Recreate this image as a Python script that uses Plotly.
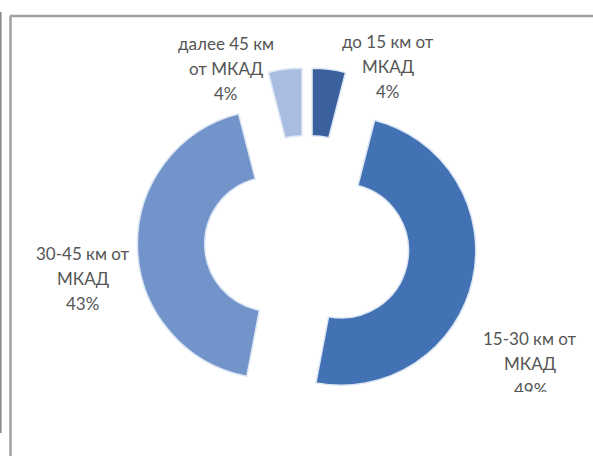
import textwrap
import plotly.graph_objects as go

# Distribution by distance from the MKAD ring road
categories = ["до 15 км от МКАД", "15-30 км от МКАД", "30-45 км от МКАД", "далее 45 км от МКАД"]
shares = [4, 49, 43, 4]
colors = ["#3A619E", "#4271B4", "#7394CB", "#A9BDE0"]
pulls = [0.30, 0.26, 0.26, 0.30]

# Label anchor points (pixel centres of each label block)
label_pos = [(388, 67), (530, 363), (83, 278), (226, 69)]

W, H = 593, 456
CLIP_Y = 393  # lower edge of the chart frame's visible area


def px(x):
    return x / W


def py(y):
    return 1 - y / H


fig = go.Figure(
    go.Pie(
        labels=categories,
        values=shares,
        sort=False,
        direction="clockwise",
        rotation=0,
        hole=0.5,
        pull=pulls,
        marker=dict(colors=colors, line=dict(color="#dce6f4", width=1.5)),
        textinfo="none",
        hoverinfo="label+percent",
        domain=dict(x=[px(132), px(482)], y=[py(418), py(68)]),
    )
)

font = dict(family="Lato, 'Open Sans', sans-serif", size=17, color="#555555")
LINE = 25
annotations = []
for name, val, (cx, cy) in zip(categories, shares, label_pos):
    lines = textwrap.wrap(name, 11) + [f"{val}%"]
    for i, line in enumerate(lines):
        y = cy + (i - 1) * LINE
        ann = dict(
            text=line, x=px(cx), y=py(y), xref="paper", yref="paper",
            showarrow=False, font=font, xanchor="center", yanchor="middle",
        )
        if y + 8 > CLIP_Y:
            # text running past the frame's lower edge is cut off
            top = y - 11
            ann.update(yanchor="top", y=py(top), height=CLIP_Y - top - 3,
                       valign="top")
        annotations.append(ann)

shapes = [
    # chart frame
    dict(type="line", xref="paper", yref="paper", x0=px(10), x1=1.0,
         y0=py(16), y1=py(16), line=dict(color="#a0a0a0", width=2.5)),
    dict(type="line", xref="paper", yref="paper", x0=px(10.5), x1=px(10.5),
         y0=py(16), y1=0, line=dict(color="#a0a0a0", width=2.5)),
    # outer edge line on the left
    dict(type="line", xref="paper", yref="paper", x0=px(0.8), x1=px(0.8),
         y0=py(12), y1=py(433), line=dict(color="#8a8a8a", width=1.6)),
]

fig.update_layout(
    width=W, height=H,
    margin=dict(l=0, r=0, t=0, b=0),
    paper_bgcolor="white", plot_bgcolor="white",
    showlegend=False,
    annotations=annotations,
    shapes=shapes,
)

fig.write_html("out.html")
